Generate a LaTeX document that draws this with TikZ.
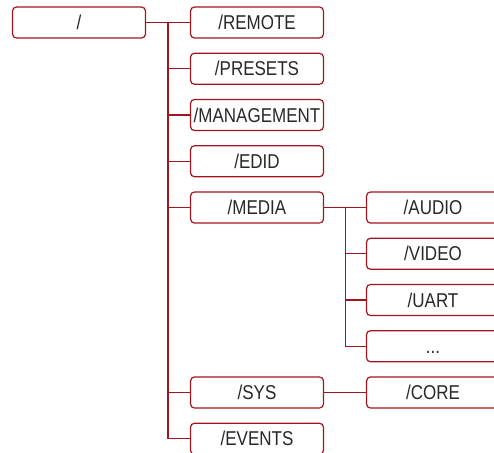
\documentclass[tikz,border=0pt]{standalone}
\usepackage{fontspec}
\setmainfont{Liberation Sans}[FakeStretch=0.85]
\definecolor{boxred}{RGB}{165,20,30}
\definecolor{txtgray}{RGB}{40,40,40}
\begin{document}
\begin{tikzpicture}[x=1pt,y=-1pt,
  box/.style={draw=boxred, line width=1.2pt, rounded corners=4pt, fill=white,
    minimum width=133pt, minimum height=31pt, inner sep=0pt,
    text height=14.3pt, text depth=0pt,
    text=txtgray, font=\fontsize{20}{24}\selectfont},
  link/.style={draw=boxred, line width=1.2pt}]
\useasboundingbox (0,0) rectangle (494,452);
\clip (0,0) rectangle (494,452);
\node[box] (root) at (79,22.5) {/};
\node[box] (remote) at (257,22.5) {/REMOTE};
\node[box] (presets) at (257,68.75) {/PRESETS};
\node[box] (management) at (257,115) {/MANAGEMENT};
\node[box] (edid) at (257,161.25) {/EDID};
\node[box] (media) at (257,207.5) {/MEDIA};
\node[box] (sys) at (257,392.5) {/SYS};
\node[box] (events) at (257,438.75) {/EVENTS};
\node[box] (audio) at (433,207.5) {/AUDIO};
\node[box] (video) at (433,253.75) {/VIDEO};
\node[box] (uart) at (433,300) {/UART};
\node[box] (dots) at (433,346.25) {...};
\node[box] (core) at (433,392.5) {/CORE};
\coordinate (t) at (168,0);
\coordinate (m) at (345.5,0);
\draw[link] (root.east) -- (remote.west);
\draw[link] (t |- root.east) |- (events.west);
\foreach \n in {presets,management,edid,media,sys}
  \draw[link] (t |- \n.west) -- (\n.west);
\draw[link] (media.east) -- (audio.west);
\draw[link] (m |- media.east) |- (dots.west);
\foreach \n in {video,uart}
  \draw[link] (m |- \n.west) -- (\n.west);
\draw[link] (sys.east) -- (core.west);
\end{tikzpicture}
\end{document}
